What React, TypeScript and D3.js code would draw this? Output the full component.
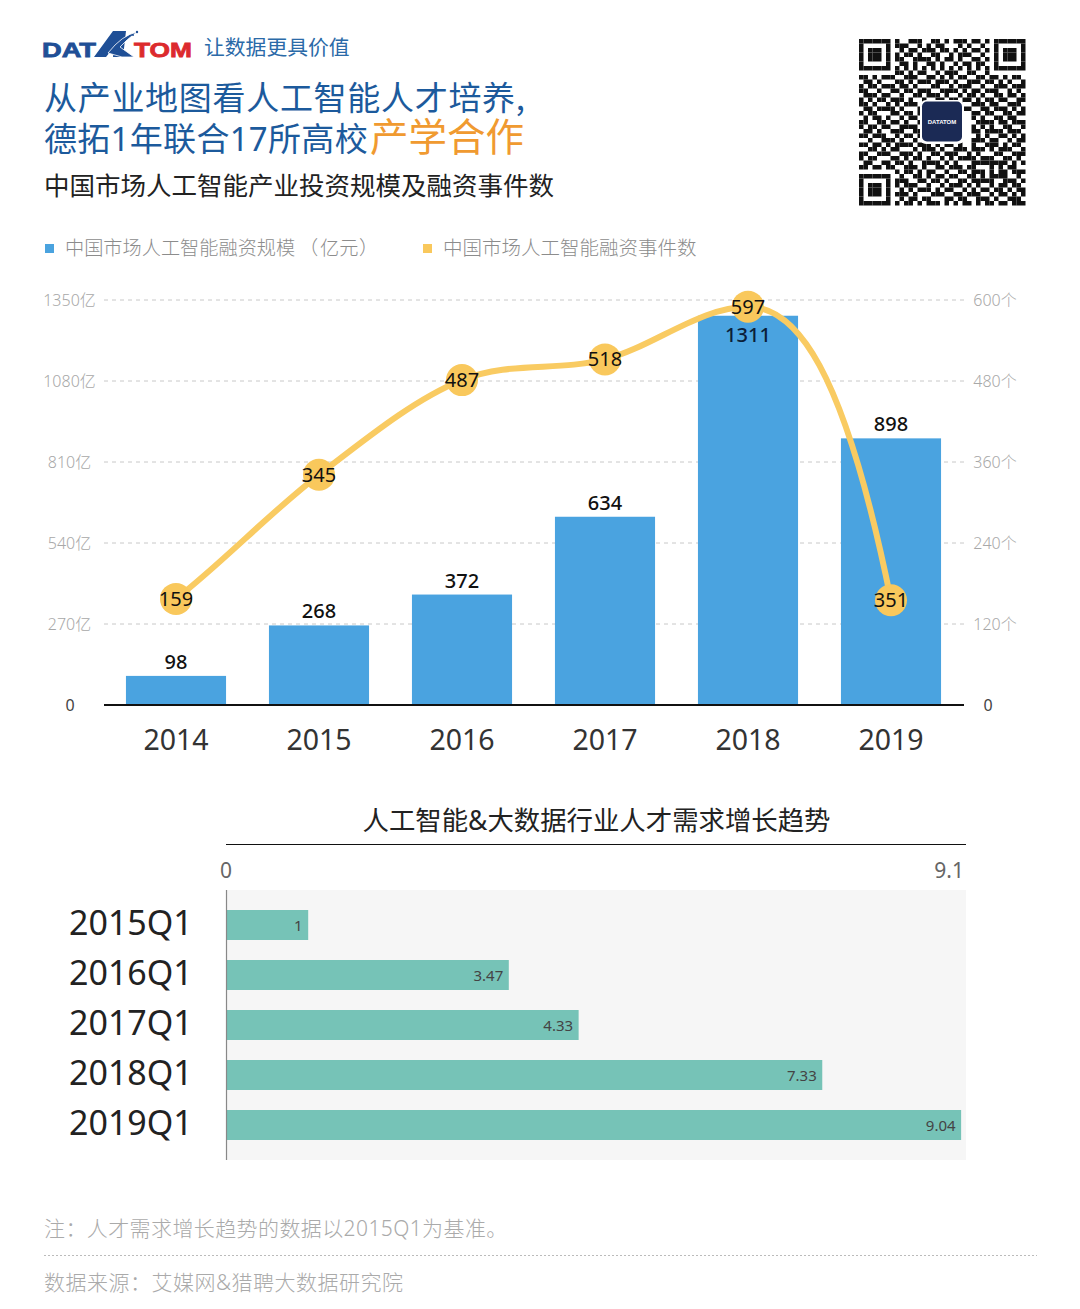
import React from "react";
import * as d3 from "d3";

const FONT = '"Noto Sans","Noto Sans CJK SC",sans-serif';

// Top chart data
const years = ["2014", "2015", "2016", "2017", "2018", "2019"];
const fundingValues = [98, 268, 372, 634, 1311, 898];
const eventLabels = [159, 345, 487, 518, 597, 351];
// Where the reference actually plots each event point (its last point sits far below its printed label)
const eventPlotted = [159, 345, 487, 518, 597, 157];
const leftTicks = [270, 540, 810, 1080, 1350];
const rightTicks = [120, 240, 360, 480, 600];

// Bottom chart data
const quarters = ["2015Q1", "2016Q1", "2017Q1", "2018Q1", "2019Q1"];
const demandValues = [1, 3.47, 4.33, 7.33, 9.04];

// Hand-read QR modules
const qrRows = [
  "1111111010011100110101110110101111111",
  "1000001011100101011000101001001000001",
  "1011101001011011101101010110101011101",
  "1011101010110100110010111001001011101",
  "1011101011001111010110100110101011101",
  "1000001001101001101001011011001000001",
  "1111111010101010101010101010101111111",
  "0000000011010110010111001100100000000",
  "1101011100111001101010110011011010110",
  "0110100011010111011101001110110101001",
  "1011011101101000110010111001001110111",
  "1100100110110111001111010110111001010",
  "0111011001001101110100101101001101101",
  "1010110111010010011011011010110110011",
  "1101001010111011110001100111011001110",
  "0110111101000110101110011001101110101",
  "1011000110110100000000000110110011011",
  "0101101001011010000000000101001101100",
  "1100110110100110000000000011110110111",
  "1011011001111010000000000101010011001",
  "0110100111001100000000000110111101110",
  "1101110010110110000000000010100110101",
  "0010011101001010000000000111011001011",
  "1101101011110111010110100100111010110",
  "0011010110001011101001110111010111001",
  "1100111001110100110111001010001100111",
  "1011000110101101001010111101110011010",
  "0110011011010011110101000111111110101",
  "1101101100111010011011101100010101100",
  "0000000010110101100100110111010110111",
  "1111111001001101011011001101011110010",
  "1000001011100110110100110111110011101",
  "1011101010111001001011101010010110110",
  "1011101001010111010110010101101101011",
  "1011101011101000111001101110010110101",
  "1000001001011011000110110011101001110",
  "1111111010110101110101011010110110111",
];

const W = 1080;
const H = 1309;

// Tangent-controlled spline: flat at turning points, steep at the final drop, as the reference's curve does
function smoothPath(pts: [number, number][]) {
  const n = pts.length;
  const slopes = d3.range(n - 1).map((i) => (pts[i + 1][1] - pts[i][1]) / (pts[i + 1][0] - pts[i][0]));
  const tangents = pts.map((_, i) => {
    if (i === 0) return slopes[0] * 0.9;
    if (i === n - 1) return slopes[n - 2] * 2.4;
    const a = slopes[i - 1];
    const b = slopes[i];
    return a * b <= 0 ? 0 : (a + b) / 2;
  });
  const p = d3.path();
  p.moveTo(pts[0][0], pts[0][1]);
  for (let i = 0; i < n - 1; i++) {
    const h = (pts[i + 1][0] - pts[i][0]) / 3;
    p.bezierCurveTo(
      pts[i][0] + h,
      pts[i][1] + tangents[i] * h,
      pts[i + 1][0] - h,
      pts[i + 1][1] - tangents[i + 1] * h,
      pts[i + 1][0],
      pts[i + 1][1]
    );
  }
  return p.toString();
}

export default function App() {
  const x = d3.scaleBand<string>().domain(years).range([104.5, 962.5]).paddingInner(0.3).paddingOuter(0.15);
  const yAxisL = d3.scaleLinear().domain([0, 1350]).range([705, 300]);
  const yAxisR = d3.scaleLinear().domain([0, 600]).range([705, 300]);
  const yBar = d3.scaleLinear().domain([0, 1364]).range([705, 300]);
  const yLine = d3.scaleLinear().domain([0, 607]).range([705, 300]);
  const cx = (y: string) => (x(y) as number) + x.bandwidth() / 2;

  const pts = years.map((y, i) => [cx(y), yLine(eventPlotted[i])] as [number, number]);

  const xH = d3.scaleLinear().domain([0, 9.1]).range([227, 966]);
  const yH = d3.scaleBand<string>().domain(quarters).range([900, 1150]).paddingInner(0.4).paddingOuter(0.2);

  const qr = d3.scaleLinear().domain([0, 37]).range([0, 166.5]);
  const noTrim: any = { textSpacingTrim: "space-all" };

  return (
    <svg
      width={W}
      height={H}
      viewBox={`0 0 ${W} ${H}`}
      style={{ position: "absolute", left: 0, top: 0, background: "#fff", fontFamily: FONT }}
    >
      {/* Logo */}
      <g>
        <text x={42} y={57} fontSize={21} fontWeight={900} fill="#1f4f96" textLength={54} lengthAdjust="spacingAndGlyphs" fontFamily='"Liberation Sans",sans-serif' stroke="#1f4f96" strokeWidth={0.8}>DAT</text>
        <path d="M94 57 L113 31 L126 31 L123 57 L113 57 L114 47 L106 57 Z" fill="#1f4f96" />
        <path d="M108 53 Q122 35 137 32 Q126 40 120 47 L134 57 L122 57 Z" fill="#1f4f96" stroke="#fff" strokeWidth={0.8} />
        <circle cx={137} cy={32} r={1.2} fill="#1f4f96" />
        <circle cx={133} cy={35} r={1} fill="#1f4f96" />
        <text x={134} y={57} fontSize={21} fontWeight={900} fill="#dc2a2d" textLength={58} lengthAdjust="spacingAndGlyphs" fontFamily='"Liberation Sans",sans-serif' stroke="#dc2a2d" strokeWidth={0.8}>TOM</text>
        <text x={204} y={55} fontSize={20.8} fill="#2b6aa8" fontFamily='"Noto Sans CJK SC"'>让数据更具价值</text>
      </g>

      {/* Titles */}
      <text x={44} y={110} fontSize={33} letterSpacing={0.7} fill="#1c5a9c" fontFamily='"Noto Sans CJK SC"'>从产业地图看人工智能人才培养,</text>
      <text x={44} y={151} fontSize={33} letterSpacing={0.3} fill="#1c5a9c" fontFamily={FONT}>德拓1年联合17所高校</text>
      <text x={370} y={151} fontSize={38.5} fill="#f09a30" fontFamily='"Noto Sans CJK SC"'>产学合作</text>
      <text x={44} y={195} fontSize={25.5} fill="#222" fontFamily='"Noto Sans CJK SC"'>中国市场人工智能产业投资规模及融资事件数</text>

      {/* QR */}
      <g transform="translate(859,39)">
        {qrRows.map((row, r) =>
          row.split("").map((c, k) =>
            c === "1" ? <rect key={`${r}-${k}`} x={qr(k)} y={qr(r)} width={qr(1)} height={qr(1)} fill="#111" /> : null
          )
        )}
        <rect x={61} y={61} width={44} height={44} rx={6} fill="#fff" />
        <rect x={63} y={62.5} width={40} height={40} rx={5} fill="#1b2a55" />
        <text x={83} y={85} fontSize={6} fontWeight={700} fill="#fff" textAnchor="middle" fontFamily='"Liberation Sans"'>DATATOM</text>
      </g>

      {/* Legend */}
      <rect x={45} y={244} width={9} height={9} fill="#4aa3df" />
      <text y={255} fontSize={19.2} fill="#8c8c8c" fontFamily='"Noto Sans CJK SC"' fontWeight={300}>
        <tspan x={65}>中国市场人工智能融资规模</tspan>
        <tspan x={299}>（</tspan>
        <tspan x={320}>亿元</tspan>
        <tspan x={359}>）</tspan>
      </text>
      <rect x={423} y={244} width={9} height={9} fill="#f9c85c" />
      <text x={443} y={255} fontSize={19.5} fill="#8c8c8c" fontFamily='"Noto Sans CJK SC"' fontWeight={300}>中国市场人工智能融资事件数</text>

      {/* Gridlines and axis labels */}
      {leftTicks.map((t) => (
        <line key={t} x1={104} x2={964} y1={yAxisL(t)} y2={yAxisL(t)} stroke="#c8c8c8" strokeWidth={1} strokeDasharray="4 4" />
      ))}
      {leftTicks.map((t) => (
        <text key={t} x={69.5} y={yAxisL(t) + 6} fontSize={16} fill="#a8a8a8" textAnchor="middle" fontWeight={300}>{t}亿</text>
      ))}
      {rightTicks.map((t) => (
        <text key={t} x={995} y={yAxisR(t) + 6} fontSize={16} fill="#a8a8a8" textAnchor="middle" fontWeight={300}>{t}个</text>
      ))}
      <text x={70} y={711} fontSize={16} fill="#444" textAnchor="middle">0</text>
      <text x={988} y={711} fontSize={16} fill="#444" textAnchor="middle">0</text>

      {/* Bars */}
      {years.map((y, i) => (
        <rect key={y} x={x(y)} y={yBar(fundingValues[i])} width={x.bandwidth()} height={705 - yBar(fundingValues[i])} fill="#4aa3e0" />
      ))}
      <line x1={104} x2={964} y1={705} y2={705} stroke="#111" strokeWidth={2} />
      {years.map((y) => (
        <text key={y} x={cx(y)} y={750} fontSize={28.5} fill="#333" textAnchor="middle">{y}</text>
      ))}
      {years.map((y, i) => {
        const v = fundingValues[i];
        const inside = v > 1300;
        return (
          <text key={y} x={cx(y)} y={inside ? yBar(v) + 26 : yBar(v) - 7} fontSize={20} fontWeight={500} fill={inside ? "#0b1f3a" : "#111"} textAnchor="middle">{v}</text>
        );
      })}

      {/* Line */}
      <path d={smoothPath(pts)} fill="none" stroke="#f9cb62" strokeWidth={6} strokeLinecap="round" />
      {pts.map((p, i) => (
        <circle key={i} cx={p[0]} cy={p[1]} r={16} fill="#f9c85c" />
      ))}
      {pts.map((p, i) => (
        <text key={i} x={p[0]} y={p[1] + 7} fontSize={20} fill="#111" textAnchor="middle">{eventLabels[i]}</text>
      ))}

      {/* Bottom chart */}
      <text x={596.5} y={830} fontSize={26.4} fill="#222" textAnchor="middle" fontFamily={FONT}>人工智能&amp;大数据行业人才需求增长趋势</text>
      <line x1={226} x2={966} y1={844.5} y2={844.5} stroke="#111" strokeWidth={1} />
      <text x={226} y={878} fontSize={21} fill="#666" textAnchor="middle">0</text>
      <text x={964} y={878} fontSize={21} fill="#666" textAnchor="end">9.1</text>
      <rect x={227} y={890} width={739} height={270} fill="#f6f6f6" />
      {quarters.map((q, i) => (
        <rect key={q} x={xH(0)} y={yH(q)} width={xH(demandValues[i]) - xH(0)} height={yH.bandwidth()} fill="#76c3b7" />
      ))}
      <line x1={226.5} x2={226.5} y1={890} y2={1160} stroke="#888" strokeWidth={1.2} />
      {quarters.map((q, i) => (
        <text key={q} x={xH(demandValues[i]) - 5.5} y={(yH(q) as number) + 21} fontSize={15} fill="#444" textAnchor="end">{demandValues[i]}</text>
      ))}
      {quarters.map((q) => (
        <text key={q} x={69} y={(yH(q) as number) + 25} fontSize={34} fill="#222">{q}</text>
      ))}

      {/* Footer */}
      <text x={44} y={1236} fontSize={21} letterSpacing={0.4} fill="#aaa" fontWeight={300} style={noTrim}>注：人才需求增长趋势的数据以2015Q1为基准。</text>
      <line x1={44} x2={1037} y1={1255.5} y2={1255.5} stroke="#bbb" strokeWidth={1} strokeDasharray="2 2" />
      <text x={44} y={1290} fontSize={21} letterSpacing={0.5} fill="#aaa" fontWeight={300} style={noTrim}>数据来源：艾媒网&amp;猎聘大数据研究院</text>
    </svg>
  );
}
